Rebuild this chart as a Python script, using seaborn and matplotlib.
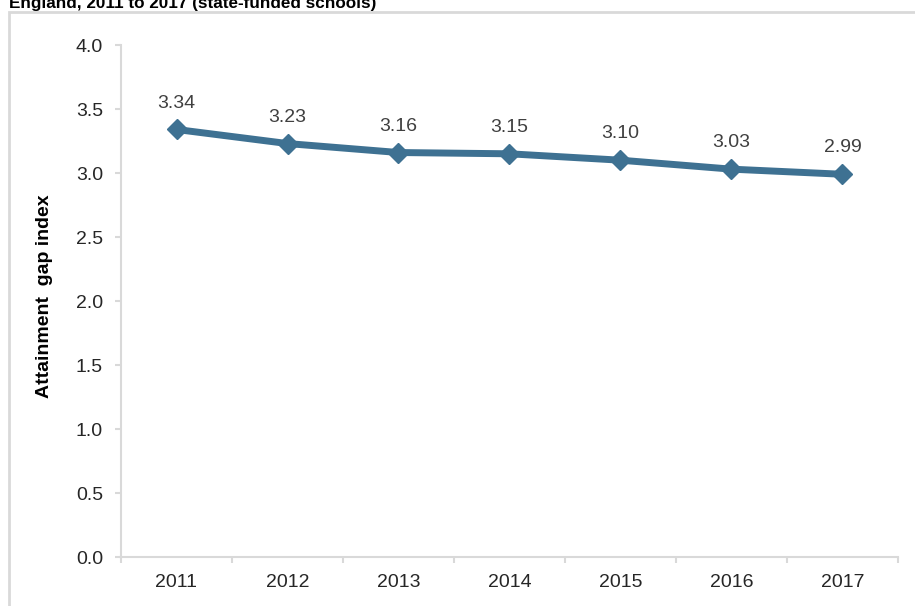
import matplotlib
matplotlib.use("Agg")
import matplotlib.pyplot as plt
import seaborn as sns
import pandas as pd
from matplotlib.patches import Rectangle

years = ["2011", "2012", "2013", "2014", "2015", "2016", "2017"]
gap_index = [3.34, 3.23, 3.16, 3.15, 3.10, 3.03, 2.99]
y_ticks = [0.0, 0.5, 1.0, 1.5, 2.0, 2.5, 3.0, 3.5, 4.0]
title_text = "England, 2011 to 2017 (state-funded schools)"
y_label = "Attainment  gap index"

sns.set_theme(style="white")
plt.rcParams['font.family'] = ['Liberation Sans', 'DejaVu Sans']

df = pd.DataFrame({"pos": range(len(years)), "year": years, "value": gap_index})

fig = plt.figure(figsize=(9.15, 6.06), dpi=100)
ax = fig.add_axes([121/915, 1-557/606, (898-121)/915, (557-45)/606])

line_color = "#3E7192"
sns.lineplot(data=df, x="pos", y="value", ax=ax, color=line_color, linewidth=5,
             marker="D", markersize=10, markeredgewidth=1, markeredgecolor=line_color,
             markerfacecolor=line_color)

for p, v in zip(df["pos"], df["value"]):
    ax.annotate(f"{v:.2f}", (p, v), xytext=(0, 19), textcoords="offset points",
                ha="center", va="center", fontsize=14, color="#404040")

ax.set_xlim(-0.5, len(years) - 0.5)
ax.set_ylim(0, 4.0)
ax.set_yticks(y_ticks)
ax.set_yticklabels([f"{t:.1f}" for t in y_ticks])
ax.set_xticks(list(range(len(years))))
ax.set_xticklabels(years)
ax.set_xticks([i - 0.5 for i in range(len(years) + 1)], minor=True)

spine_col = "#D9D9D9"
for s in ["top", "right"]:
    ax.spines[s].set_visible(False)
for s in ["left", "bottom"]:
    ax.spines[s].set_color(spine_col)
    ax.spines[s].set_linewidth(1.5)

ax.tick_params(axis="x", which="major", length=0, pad=12, labelsize=14, labelcolor="#262626")
ax.tick_params(axis="x", which="minor", length=4.5, width=1.5, color=spine_col, direction="out")
ax.tick_params(axis="y", which="major", length=4.5, width=1.5, color=spine_col, direction="out",
               pad=8.5, labelsize=14, labelcolor="#262626")
ax.tick_params(left=True, bottom=False)
ax.tick_params(axis="x", which="minor", bottom=True)

ax.set_xlabel("")
ax.set_ylabel(y_label, fontsize=14, fontweight="bold", color="#000000")
ax.yaxis.set_label_coords(-0.088, 0.51)

fig.patches.append(Rectangle((9/915, -0.1), 1.2, 1 - 12/606 + 0.1, transform=fig.transFigure,
                             fill=False, edgecolor=spine_col, linewidth=2, zorder=0))
fig.text(9/915, 1 - 8/606, title_text, fontsize=12.3, fontweight="bold", color="#000000",
         ha="left", va="baseline")

fig.savefig("out.png", dpi=100)
